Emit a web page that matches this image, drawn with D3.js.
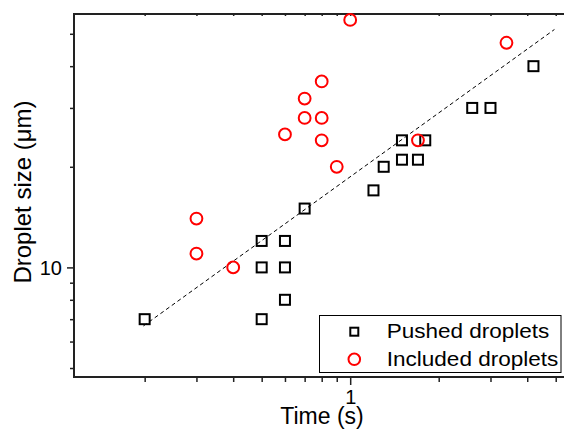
<!DOCTYPE html>
<html><head><meta charset="utf-8">
<script src="https://cdn.jsdelivr.net/npm/d3@7"></script>
<style>body{margin:0;background:#fff}svg{display:block;font-family:"Liberation Sans",Arial,sans-serif}</style>
</head><body>
<script>
const pushedX = [0.2, 0.5, 0.5, 0.5, 0.6, 0.6, 0.6, 0.7, 1.2, 1.3, 1.5, 1.5, 1.7, 1.8, 2.6, 3.0, 4.2];
const pushedY = [7, 12, 10, 7, 12, 10, 8, 15, 17, 20, 21, 24, 21, 24, 30, 30, 40];
const includedX = [0.3, 0.3, 0.4, 0.6, 0.7, 0.7, 0.8, 0.8, 0.8, 0.9, 1.0, 1.7, 3.4];
const includedY = [14, 11, 10, 25, 32, 28, 36, 28, 24, 20, 55, 24, 47];
const fitX = [0.198, 4.95];
const fitY = [6.68, 51.5];
const xTicks = [0.2, 0.3, 0.4, 0.5, 0.6, 0.7, 0.8, 0.9, 1, 2, 3, 4, 5, 6];
const xTickLabels = {1: "1"};
const yTicks = [5, 6, 7, 8, 9, 10, 20, 30, 40, 50];
const yTickLabels = {10: "10"};
const seriesNames = ["Pushed droplets", "Included droplets"];
const xTitle = "Time (s)";
const yTitle = "Droplet size (\u03BCm)";

const W = 564, H = 429;
const L = 74, T = 14, B = 377, R = 579;
const svg = d3.select("body").append("svg").attr("width", W).attr("height", H);
const x = d3.scaleLog().domain([0.115, 6]).range([L, R]);
const y = d3.scaleLog().domain([4.7, 57.3]).range([B, T]);
const axisColor = "#222";

// bottom axis
const xb = svg.append("g").attr("transform", `translate(0,${B})`)
  .call(d3.axisBottom(x).tickValues(xTicks).tickFormat(d => xTickLabels[d] || "").tickSizeOuter(0));
xb.selectAll(".tick line").attr("y2", d => xTickLabels[d] ? 8 : 5);
// top axis
const xt = svg.append("g").attr("transform", `translate(0,${T})`)
  .call(d3.axisTop(x).tickValues(xTicks).tickFormat("").tickSizeOuter(0).tickSizeInner(-2));
// left axis
const yl = svg.append("g").attr("transform", `translate(${L},0)`)
  .call(d3.axisLeft(y).tickValues(yTicks).tickFormat(d => yTickLabels[d] || "").tickSizeOuter(0));
yl.selectAll(".tick line").attr("x2", d => yTickLabels[d] ? -7 : -4);

[xb, xt, yl].forEach(g => {
  g.select(".domain").attr("stroke", axisColor).attr("stroke-width", 2);
  g.selectAll(".tick line").attr("stroke", axisColor).attr("stroke-width", 1.5);
  g.selectAll(".tick text").attr("fill", "#000").attr("font-size", 20).attr("font-family", '"Liberation Sans",Arial,sans-serif');
});
xb.selectAll(".tick text").attr("y", 13);
yl.selectAll(".tick text").attr("x", -12).attr("dy", "0.36em");
xb.select(".domain").attr("d", `M${L-1},0H${R}`);
yl.select(".domain").attr("d", `M0,${T-1}V${B+1}`);
xt.select(".domain").attr("d", `M${L-1},0H${R}`);

// fit line
svg.append("line")
  .attr("x1", x(fitX[0])).attr("y1", y(fitY[0]))
  .attr("x2", x(fitX[1])).attr("y2", y(fitY[1]))
  .attr("stroke", "#000").attr("stroke-width", 1).attr("stroke-dasharray", "4,3");

// pushed squares
const sq = 10;
svg.append("g").selectAll("rect").data(d3.range(pushedX.length)).join("rect")
  .attr("x", i => x(pushedX[i]) - sq/2).attr("y", i => y(pushedY[i]) - sq/2)
  .attr("width", sq).attr("height", sq)
  .attr("fill", "none").attr("stroke", "#000").attr("stroke-width", 2);

// included circles
svg.append("g").selectAll("circle").data(d3.range(includedX.length)).join("circle")
  .attr("cx", i => x(includedX[i])).attr("cy", i => y(includedY[i])).attr("r", 5.9)
  .attr("fill", "none").attr("stroke", "#ff0000").attr("stroke-width", 2);

// axis titles
svg.append("text").attr("x", 322).attr("y", 424).attr("text-anchor", "middle")
  .attr("font-size", 23).text(xTitle);
svg.append("text").attr("transform", "translate(31,192) rotate(-90)").attr("text-anchor", "middle")
  .attr("font-size", 24).text(yTitle);

// legend
const lg = svg.append("g");
lg.append("rect").attr("x", 319.5).attr("y", 315.5).attr("width", 241.5).attr("height", 57)
  .attr("fill", "#fff").attr("stroke", "#000").attr("stroke-width", 1);
lg.append("rect").attr("x", 350.3).attr("y", 327.7).attr("width", 8).attr("height", 8)
  .attr("fill", "none").attr("stroke", "#000").attr("stroke-width", 2);
lg.append("circle").attr("cx", 354.3).attr("cy", 359.3).attr("r", 5.8)
  .attr("fill", "none").attr("stroke", "#ff0000").attr("stroke-width", 2);
lg.append("text").attr("x", 386.7).attr("y", 338).attr("font-size", 21).attr("textLength", 162.7)
  .attr("lengthAdjust", "spacingAndGlyphs").text(seriesNames[0]);
lg.append("text").attr("x", 386.7).attr("y", 365.5).attr("font-size", 21).attr("textLength", 171.7)
  .attr("lengthAdjust", "spacingAndGlyphs").text(seriesNames[1]);
</script>
</body></html>
